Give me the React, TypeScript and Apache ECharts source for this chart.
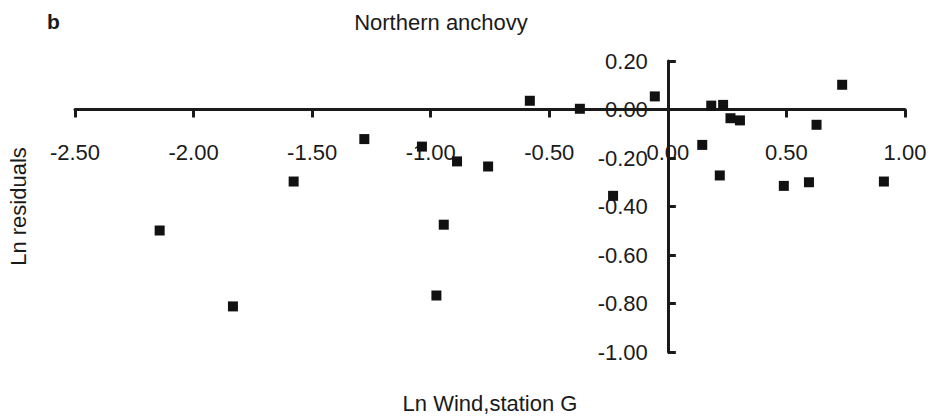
import React, { useEffect, useRef } from "react";
import * as echarts from "echarts";

const xValues = [-2.143, -1.834, -1.578, -1.28, -1.037, -0.889, -0.758, -0.945, -0.976, -0.582, -0.371, -0.055, -0.231, 0.145, 0.183, 0.233, 0.264, 0.304, 0.219, 0.489, 0.595, 0.627, 0.735, 0.911];
const yValues = [-0.499, -0.812, -0.297, -0.122, -0.153, -0.214, -0.235, -0.475, -0.767, 0.036, 0.003, 0.054, -0.356, -0.146, 0.016, 0.019, -0.036, -0.045, -0.272, -0.315, -0.3, -0.063, 0.102, -0.297];

const titleText = "Northern anchovy";
const panelLetter = "b";
const xName = "Ln Wind,station G";
const yName = "Ln residuals";

const FONT = "'Liberation Sans', Arial, Helvetica, sans-serif";
const INK = "#1a1a1a";

const GRID = { left: 75, right: 31, top: 61, bottom: 67 };
const W = 936;
const H = 419;

export default function App() {
  const ref = useRef<HTMLDivElement>(null);
  useEffect(() => {
    if (!ref.current) return;
    const chart = echarts.init(ref.current, null, { renderer: "svg" });
    const data = xValues.map((x, i) => [x, yValues[i]]);
    const build = (xOffset: number, yOffset: number) => ({
      animation: false,
      backgroundColor: "#ffffff",
      textStyle: { fontFamily: FONT },
      grid: { ...GRID, containLabel: false, outerBoundsMode: "none" },
      graphic: [
        {
          type: "text",
          x: 47,
          y: 11,
          style: { text: panelLetter, font: `bold 21px ${FONT}`, fill: INK },
        },
        {
          type: "text",
          x: 441,
          y: 11,
          style: { text: titleText, font: `22px ${FONT}`, fill: INK, textAlign: "center" },
        },
      ],
      xAxis: {
        type: "value",
        position: "bottom",
        offset: xOffset,
        min: -2.5,
        max: 1.0,
        interval: 0.5,
        name: xName,
        nameLocation: "middle",
        nameGap: 283,
        nameTextStyle: { fontSize: 22, color: INK, fontFamily: FONT },
        axisLine: { onZero: false, lineStyle: { color: INK, width: 3 } },
        axisTick: { show: true, inside: false, length: 8, lineStyle: { color: INK, width: 3 } },
        axisLabel: {
          fontSize: 22,
          color: INK,
          fontFamily: FONT,
          margin: 32,
          hideOverlap: false,
          formatter: (v: number) => v.toFixed(2),
        },
        splitLine: { show: false },
      },
      yAxis: {
        type: "value",
        position: "left",
        offset: yOffset,
        min: -1.0,
        max: 0.2,
        interval: 0.2,
        name: yName,
        nameLocation: "middle",
        nameGap: 638,
        nameTextStyle: { fontSize: 22, color: INK, fontFamily: FONT },
        axisLine: { onZero: false, lineStyle: { color: INK, width: 3 } },
        axisTick: { show: true, inside: true, length: 8, lineStyle: { color: INK, width: 3 } },
        axisLabel: {
          fontSize: 22,
          color: INK,
          fontFamily: FONT,
          margin: 20,
          hideOverlap: false,
          formatter: (v: number) => v.toFixed(2),
        },
        splitLine: { show: false },
      },
      series: [
        {
          type: "scatter",
          data,
          symbol: "rect",
          symbolSize: 10,
          itemStyle: { color: "#111111", opacity: 1 },
        },
      ],
    });
    chart.setOption(build(0, 0));
    const origin = chart.convertToPixel({ gridIndex: 0 }, [0, 0]) as number[];
    const xOffset = origin[1] - (H - GRID.bottom);
    const yOffset = GRID.left - origin[0];
    chart.setOption(build(xOffset, yOffset));
    return () => chart.dispose();
  }, []);
  return (
    <div
      ref={ref}
      style={{ position: "absolute", left: 0, top: 0, width: W, height: H }}
    />
  );
}
